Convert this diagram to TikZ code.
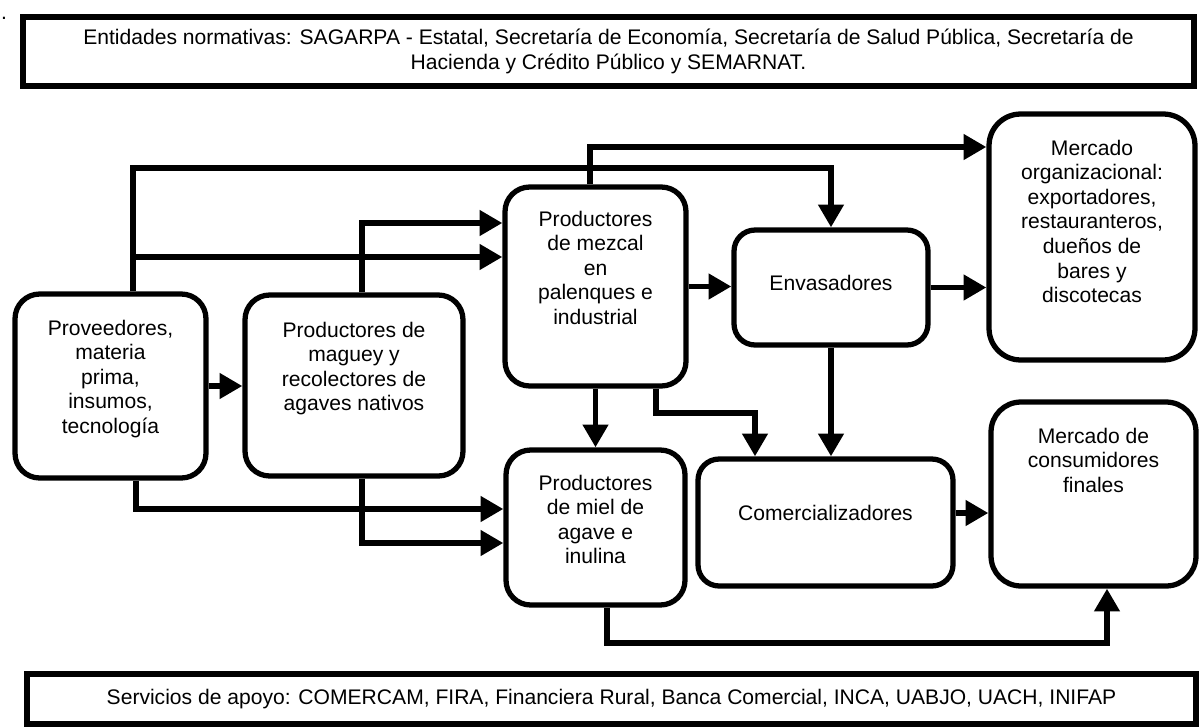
\documentclass[tikz,border=0pt]{standalone}
\usepackage{fontspec}
\setmainfont{Liberation Sans}
\usetikzlibrary{arrows.meta,positioning}

\begin{document}
\begin{tikzpicture}[
  x=0.02cm,y=-0.02cm,
  box/.style={draw,line width=3pt,rounded corners=14pt},
  frame/.style={draw,line width=3pt,font=\fontsize{12}{14}\selectfont,align=center},
  lbl/.style={font=\fontsize{12}{14}\selectfont,align=center,inner sep=0pt},
  flow/.style={line width=3.3pt,-{Triangle[length=13pt,width=14pt]}}
]
  \useasboundingbox (0,0) rectangle (1200,727);
  \node[font=\fontsize{12}{14}\selectfont,inner sep=0pt,anchor=south] (dot) at (4,20) {.};
  % upper and lower frames
  \node[frame,minimum width=23.42cm,minimum height=1.38cm] (norm) at (608.5,51.5)
    {Entidades normativas: SAGARPA - Estatal, Secretaría de Economía, Secretaría de Salud Pública, Secretaría de\\Hacienda y Crédito Público y SEMARNAT.};
  \node[frame,minimum width=23.38cm,minimum height=1.00cm] (serv) at (611.5,699)
    {Servicios de apoyo: COMERCAM, FIRA, Financiera Rural, Banca Comercial, INCA, UABJO, UACH, INIFAP};
  % chain boxes
  \node[box,minimum width=3.82cm,minimum height=3.68cm] (prov) at (110.5,386) {};
  \node[box,minimum width=4.36cm,minimum height=3.62cm] (mag) at (354,385.5) {};
  \node[box,minimum width=3.62cm,minimum height=3.98cm] (mez) at (595.5,286.5) {};
  \node[box,minimum width=3.88cm,minimum height=2.30cm,rounded corners=12pt] (env) at (831,287.5) {};
  \node[box,minimum width=4.12cm,minimum height=4.92cm,rounded corners=18pt] (org) at (1092,237) {};
  \node[box,minimum width=3.58cm,minimum height=3.10cm] (miel) at (595.5,527.5) {};
  \node[box,minimum width=5.10cm,minimum height=2.54cm,rounded corners=12pt] (com) at (825.5,522.5) {};
  \node[box,minimum width=4.10cm,minimum height=3.68cm,rounded corners=17pt] (cons) at (1093.5,494) {};
  % box texts
  \node[lbl,below=0.56cm of prov.north] (prov-t) {Proveedores,\\materia\\prima,\\insumos,\\tecnología};
  \node[lbl,below=0.58cm of mag.north] (mag-t) {Productores de\\maguey y\\recolectores de\\agaves nativos};
  \node[lbl,below=0.52cm of mez.north] (mez-t) {Productores\\de mezcal\\en\\palenques e\\industrial};
  \node[lbl,below=0.94cm of env.north] (env-t) {Envasadores};
  \node[lbl,below=0.56cm of org.north] (org-t) {Mercado\\organizacional:\\exportadores,\\restauranteros,\\dueños de\\bares y\\discotecas};
  \node[lbl,below=0.54cm of miel.north] (miel-t) {Productores\\de miel de\\agave e\\inulina};
  \node[lbl,below=0.96cm of com.north] (com-t) {Comercializadores};
  \node[lbl,below=0.56cm of cons.north] (cons-t) {Mercado de\\consumidores\\finales};
  % bend points
  \coordinate (provUp) at (133,168);
  \coordinate (provMid) at (133,257);
  \coordinate (mezUp) at (590,147);
  \coordinate (magUp) at (362,223);
  \coordinate (provDn) at (136,509);
  \coordinate (magDn) at (362,543);
  \coordinate (mezDn) at (656,413);
  \coordinate (comIn) at (755,413);
  \coordinate (mielDn) at (607,643);
  \coordinate (consIn) at (1107,643);
  % connectors
  \draw[flow] (prov) -- (prov -| mag.west);
  \draw[flow] (prov.north -| provUp) -- (provUp) -| (env.north);
  \draw[flow] (provMid) -- (provMid -| mez.west);
  \draw[flow] (mag.north -| magUp) -- (magUp) -- (magUp -| mez.west);
  \draw[flow] (mez.north -| mezUp) -- (mezUp) -- (mezUp -| org.west);
  \draw[flow] (mez.east) -- (mez.east -| env.west);
  \draw[flow] (env.east) -- (env.east -| org.west);
  \draw[flow] (prov.south -| provDn) -- (provDn) -- (provDn -| miel.west);
  \draw[flow] (mag.south -| magDn) -- (magDn) -- (magDn -| miel.west);
  \draw[flow] (mez.south) -- (miel.north);
  \draw[flow] (mez.south -| mezDn) -- (mezDn) -- (comIn) -- (comIn |- com.north);
  \draw[flow] (env.south) -- (env.south |- com.north);
  \draw[flow] ([yshift=0.19cm]com.east) -- ([yshift=0.19cm]com.east -| cons.west);
  \draw[flow] (miel.south -| mielDn) -- (mielDn) -- (consIn) -- (consIn |- cons.south);
\end{tikzpicture}
\end{document}
